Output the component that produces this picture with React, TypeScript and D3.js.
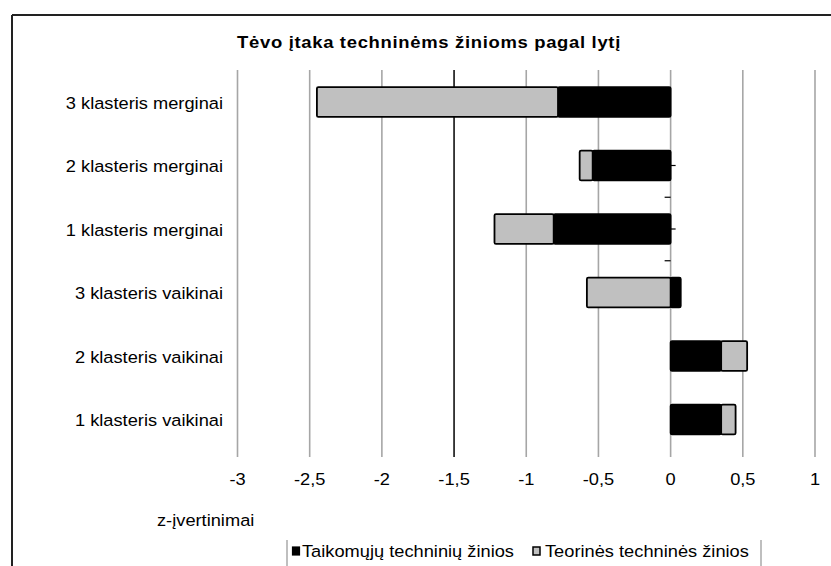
import React from "react";
import * as d3 from "d3";

const categories = [
  "3 klasteris merginai",
  "2 klasteris merginai",
  "1 klasteris merginai",
  "3 klasteris vaikinai",
  "2 klasteris vaikinai",
  "1 klasteris vaikinai",
];
const taikomuju = [-0.78, -0.54, -0.81, 0.07, 0.35, 0.35];
const teorines = [-1.67, -0.09, -0.41, -0.58, 0.18, 0.1];
const seriesNames = ["Taikomųjų techninių žinios", "Teorinės techninės žinios"];
const seriesColors = ["#000000", "#c0c0c0"];
const xTicks = [-3, -2.5, -2, -1.5, -1, -0.5, 0, 0.5, 1];
const title = "Tėvo įtaka techninėms žinioms pagal lytį";
const axisTitle = "z-įvertinimai";

const W = 831;
const H = 566;
const FONT = "'Liberation Sans', Arial, sans-serif";
const SX = 1.12;

export default function App() {
  const x = d3.scaleLinear().domain([-3, 1]).range([237.5, 815]);
  const y = d3.scaleBand<string>().domain(categories).range([70.25, 451.25]).paddingInner(0.53).paddingOuter(0.265);

  const rows = categories.map((c, i) => ({ cat: c, a: taikomuju[i], b: teorines[i] }));
  const stack = d3.stack<any>().keys(["a", "b"]).offset(d3.stackOffsetDiverging);
  const layers = stack(rows);

  const fmt = (v: number) => String(v).replace(".", ",");
  const step = y.step();
  const plotTop = 70;
  const plotBottom = 451;

  const T = (props: any) => {
    const { x: tx, y: ty, children, anchor = "start", size = 16.3, weight = "normal", ls = 0 } = props;
    return (
      <text
        transform={`translate(${tx},${ty}) scale(${SX},1)`}
        textAnchor={anchor}
        dominantBaseline="central"
        fontFamily={FONT}
        fontSize={size}
        fontWeight={weight}
        letterSpacing={ls}
        fill="#000"
      >
        {children}
      </text>
    );
  };

  return (
    <svg width={W} height={H} style={{ position: "absolute", left: 0, top: 0, background: "#fff" }}>
      <rect x={0} y={0} width={W} height={H} fill="#fff" />
      {/* frame */}
      <line x1={12} y1={15} x2={W} y2={15} stroke="#222" strokeWidth={2} />
      <line x1={12} y1={15} x2={12} y2={H} stroke="#222" strokeWidth={2} />

      <T x={429} y={42} anchor="middle" size={16.5} weight="bold" ls={0.6}>
        {title}
      </T>

      {/* gridlines + ticks */}
      {xTicks.map((t) => (
        <g key={t}>
          <line
            x1={x(t)}
            x2={x(t)}
            y1={plotTop}
            y2={plotBottom + 6}
            stroke={t === -1.5 ? "#111" : "#a6a6a6"}
            strokeWidth={1.6}
          />
          <T x={x(t)} y={479} anchor="middle">
            {fmt(t)}
          </T>
        </g>
      ))}

      {/* small category axis ticks at 0 */}
      {[1, 2].map((i) => (
        <g key={i}>
          <line x1={x(0) - 6} x2={x(0)} y1={y(categories[i])! + y.bandwidth() + (step - y.bandwidth()) / 2} y2={y(categories[i])! + y.bandwidth() + (step - y.bandwidth()) / 2} stroke="#000" strokeWidth={1.2} />
          <line x1={x(0)} x2={x(0) + 5} y1={y(categories[i])! + y.bandwidth() / 2} y2={y(categories[i])! + y.bandwidth() / 2} stroke="#000" strokeWidth={1.2} />
        </g>
      ))}

      {/* bars */}
      {layers.map((layer, li) =>
        layer.map((d, i) => {
          const x0 = x(Math.min(d[0], d[1]));
          const x1 = x(Math.max(d[0], d[1]));
          const yy = y(categories[i])!;
          return (
            <rect
              key={`${li}-${i}`}
              x={x0}
              y={yy}
              width={Math.max(0, x1 - x0)}
              height={y.bandwidth()}
              fill={seriesColors[li]}
              stroke="#000"
              strokeWidth={1.8}
              rx={1.5}
            />
          );
        })
      )}

      {/* category labels */}
      {categories.map((c) => (
        <T key={c} x={223} y={y(c)! + y.bandwidth() / 2 + 1} anchor="end">
          {c}
        </T>
      ))}

      <T x={157} y={520}>
        {axisTitle}
      </T>

      {/* legend */}
      <line x1={287} x2={287} y1={540} y2={H} stroke="#aaa" strokeWidth={1.5} />
      <line x1={761} x2={761} y1={540} y2={H} stroke="#aaa" strokeWidth={1.5} />
      <rect x={292.5} y={547} width={7} height={8} fill={seriesColors[0]} stroke="#000" strokeWidth={1.2} />
      <T x={302} y={551.5}>
        {seriesNames[0]}
      </T>
      <rect x={533} y={547} width={7} height={8} fill={seriesColors[1]} stroke="#000" strokeWidth={1.5} />
      <T x={545} y={551.5}>
        {seriesNames[1]}
      </T>
    </svg>
  );
}
